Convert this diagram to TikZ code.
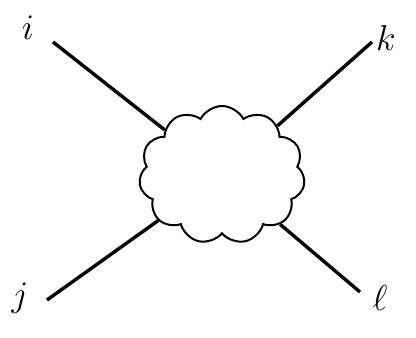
\documentclass[tikz,border=0pt]{standalone}
\usepackage{fix-cm}
\usetikzlibrary{shapes.symbols}

\begin{document}
\begin{tikzpicture}[x=1pt,y=-1pt,
        blob/.style={cloud,cloud puffs=11,cloud puff arc=125,aspect=1.2,draw,line width=2pt,minimum width=166pt,minimum height=138pt,inner sep=0pt},
        leg/.style={line width=3.4pt},
        etiqueta/.style={font=\fontsize{36}{42}\selectfont,inner sep=0pt}]
        \useasboundingbox (0,0) rectangle (416,338);
        \node[blob] (nube) at (222,175) {};
        \coordinate (ei) at (53,42);\coordinate (ek) at (372,42);
        \coordinate (ej) at (47,300);\coordinate (el) at (360,292);
        \draw[leg] (ei) -- (nube);\draw[leg] (ek) -- (nube);\draw[leg] (ej) -- (nube);\draw[leg] (el) -- (nube);
        \node[etiqueta] (li) at (28,28) {$i$};
        \node[etiqueta] (lk) at (386,38) {$k$};
        \node[etiqueta] (lj) at (20,298) {$j$};
        \node[etiqueta] (ll) at (380,298) {$\ell$};
      \end{tikzpicture}
\end{document}
